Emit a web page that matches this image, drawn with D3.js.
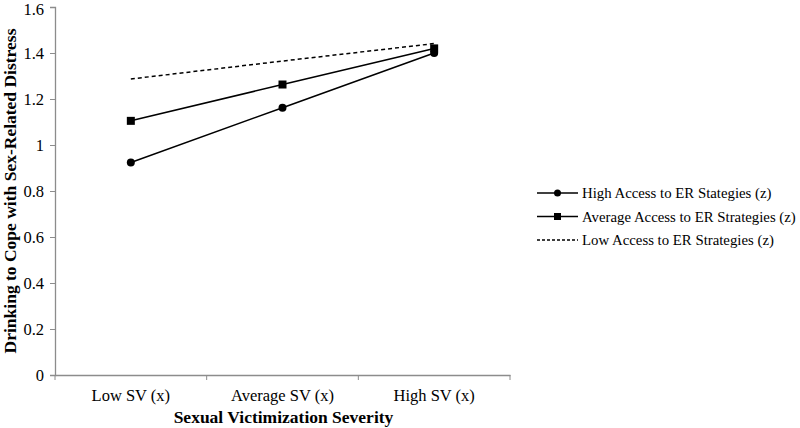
<!DOCTYPE html>
<html><head><meta charset="utf-8">
<script src="https://cdn.jsdelivr.net/npm/d3@7"></script>
<style>body{margin:0;background:#fff}svg{display:block}</style>
</head><body>
<svg id="c" width="800" height="428"></svg>
<script>
const categories = ["Low SV (x)", "Average SV (x)", "High SV (x)"];
const highAccess = [0.924, 1.162, 1.40];
const avgAccess = [1.105, 1.263, 1.42];
const lowAccess = [1.287, 1.365, 1.441];
const yTicks = [0, 0.2, 0.4, 0.6, 0.8, 1, 1.2, 1.4, 1.6];
const seriesNames = ["High Access to ER Stategies (z)", "Average Access to ER Strategies (z)", "Low Access to ER Strategies (z)"];

const svg = d3.select("#c");
const font = "'Liberation Serif', serif";
const L = 55, R = 510, T = 7, B = 375;
const x = d3.scaleBand().domain(categories).range([L, R]);
const y = d3.scaleLinear().domain([0, 1.6]).range([B, T]);

const yAxis = svg.append("g").attr("transform", `translate(${L},0)`)
  .call(d3.axisLeft(y).tickValues(yTicks).tickSize(5).tickFormat(d => String(d)));
const xAxis = svg.append("g").attr("transform", `translate(0,${B})`)
  .call(d3.axisBottom(x).tickSize(0));
const bounds = [L].concat(categories.map(c => x(c) + x.bandwidth()));
xAxis.selectAll(".bt").data(bounds).enter().append("line")
  .attr("x1", d => d).attr("x2", d => d).attr("y1", 0).attr("y2", 5)
  .attr("stroke", "#8c8c8c");
[yAxis, xAxis].forEach(a => {
  a.select(".domain").attr("stroke", "#8c8c8c").attr("stroke-width", 1.3);
  a.selectAll(".tick line").attr("stroke", "#8c8c8c");
  a.selectAll("text").attr("font-family", font).attr("font-size", 16.5).attr("fill", "#000");
});
yAxis.selectAll("text").attr("x", -11).attr("dy", d => d === 1.6 ? "0.45em" : "0.35em");
xAxis.selectAll(".tick text").attr("dy", "0").attr("y", 26);

svg.append("text").attr("x", (L + R) / 2 + 1).attr("y", 423).attr("text-anchor", "middle")
  .attr("font-family", font).attr("font-weight", "bold").attr("font-size", 17.5)
  .text("Sexual Victimization Severity");
svg.append("text").attr("transform", `translate(16,${(T + B) / 2}) rotate(-90)`)
  .attr("text-anchor", "middle").attr("font-family", font).attr("font-weight", "bold").attr("font-size", 17.5)
  .text("Drinking to Cope with Sex-Related Distress");

const cx = c => x(c) + x.bandwidth() / 2;
const line = d3.line().x((d, i) => cx(categories[i])).y(d => y(d));
const series = [
  {name: seriesNames[0], vals: highAccess, marker: "circle", dash: null},
  {name: seriesNames[1], vals: avgAccess, marker: "square", dash: null},
  {name: seriesNames[2], vals: lowAccess, marker: null, dash: "4,3"}
];
series.forEach(s => {
  svg.append("path").datum(s.vals).attr("d", line).attr("fill", "none")
    .attr("stroke", "#000").attr("stroke-width", 1.5).attr("stroke-dasharray", s.dash);
  s.vals.forEach((v, i) => {
    if (s.marker === "circle") svg.append("circle").attr("cx", cx(categories[i])).attr("cy", y(v)).attr("r", 4);
    if (s.marker === "square") svg.append("rect").attr("x", cx(categories[i]) - 4).attr("y", y(v) - 4).attr("width", 8).attr("height", 8);
  });
});

const lg = svg.append("g");
series.forEach((s, i) => {
  const yy = 193 + i * 23.5;
  lg.append("line").attr("x1", 537).attr("x2", 578).attr("y1", yy).attr("y2", yy)
    .attr("stroke", "#000").attr("stroke-width", 1.5).attr("stroke-dasharray", s.dash ? "3,2" : null);
  if (s.marker === "circle") lg.append("circle").attr("cx", 557.5).attr("cy", yy).attr("r", 3.5);
  if (s.marker === "square") lg.append("rect").attr("x", 554).attr("y", yy - 3.5).attr("width", 7).attr("height", 7);
  lg.append("text").attr("x", 582).attr("y", yy + 5).attr("font-family", font).attr("font-size", 14.8)
    .text(s.name);
});
</script>
</body></html>
